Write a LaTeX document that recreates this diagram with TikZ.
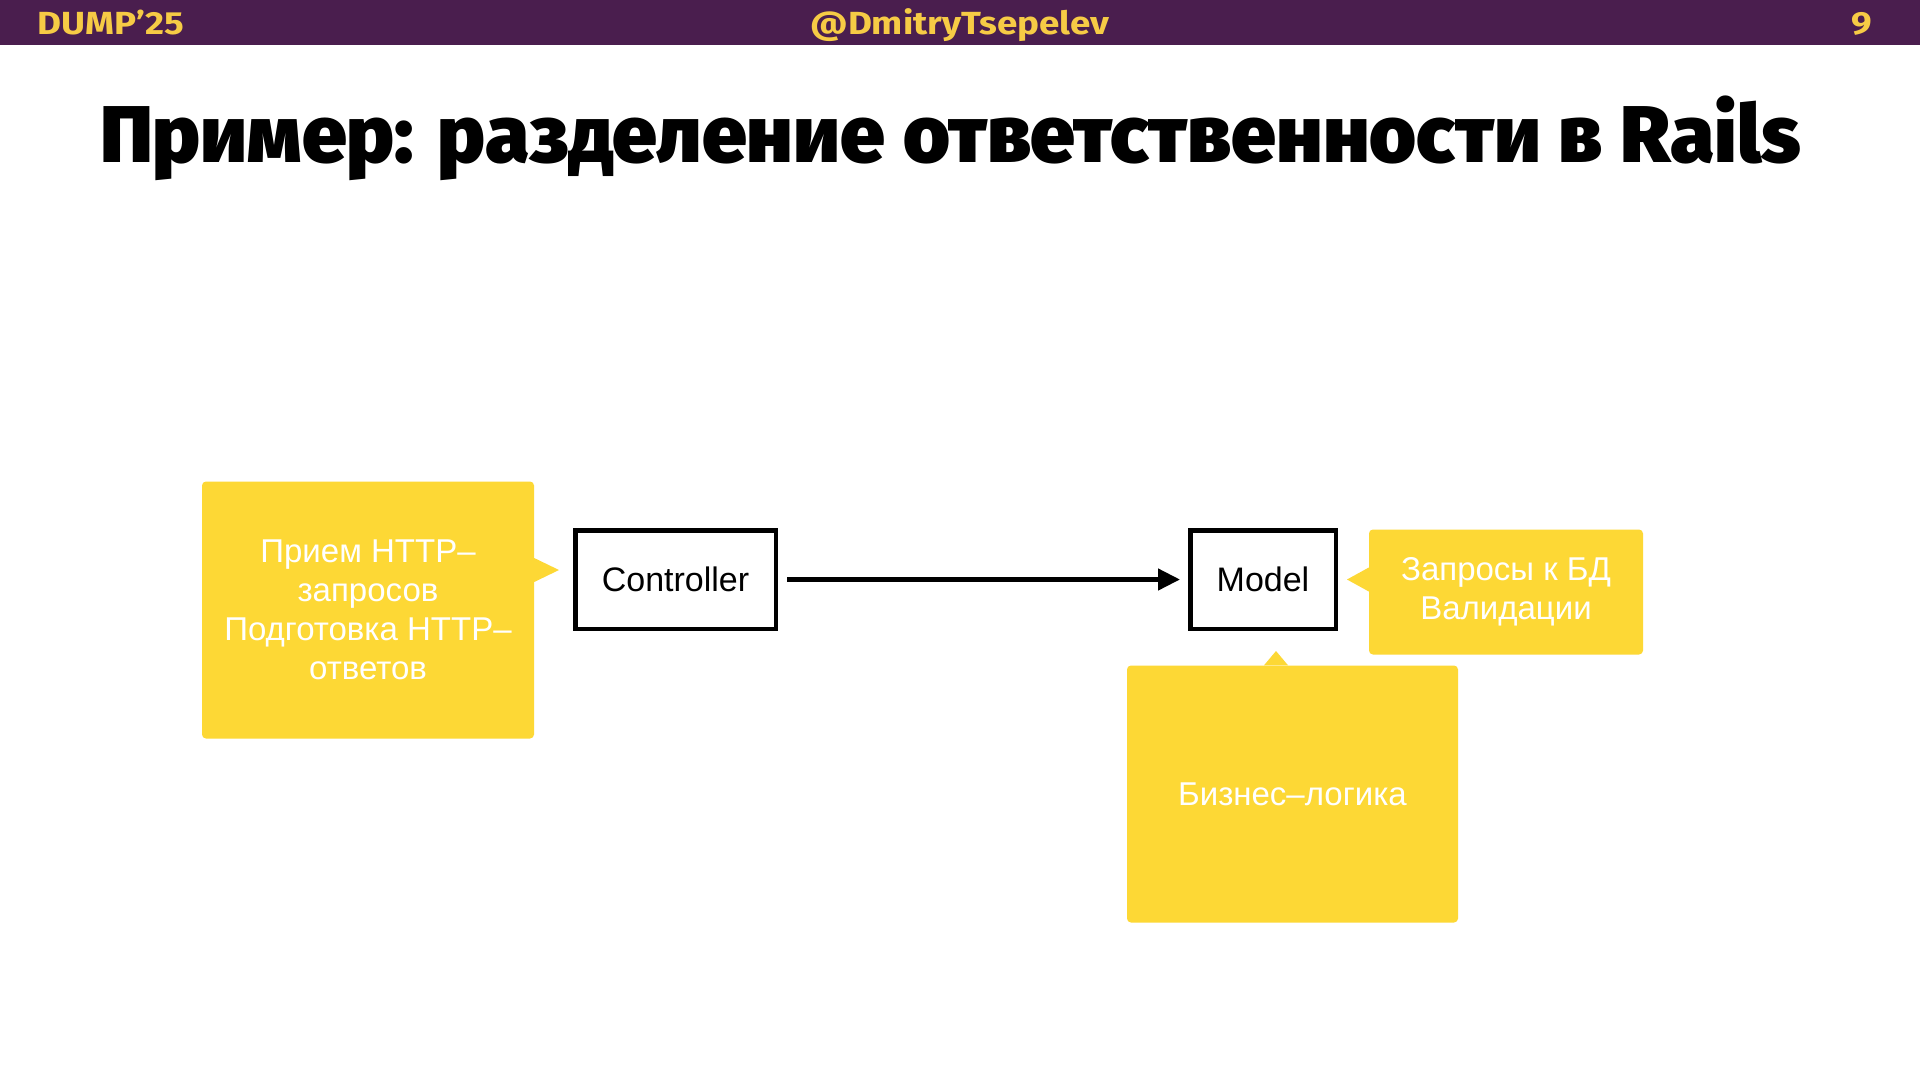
\documentclass[tikz,border=0pt]{standalone}
\usepackage{fontspec}
\setmainfont{Liberation Sans}
\newfontfamily\titlefont{Fira Sans Black}
\newfontfamily\headfont[FakeStretch=1.15]{Fira Sans Bold}
\usetikzlibrary{arrows.meta}
\definecolor{barpurple}{HTML}{4A1E4E}
\definecolor{baryellow}{HTML}{F6CB45}
\definecolor{calloutyellow}{HTML}{FDD835}
\begin{document}
\begin{tikzpicture}[x=1pt,y=-1pt,
  callbox/.style={fill=calloutyellow, rounded corners=4pt, text=white, align=center,
    font=\fontsize{33}{39}\selectfont, inner sep=0pt},
  compbox/.style={draw=black, line width=4.5pt, fill=white,
    font=\fontsize{34}{38}\selectfont, inner sep=0pt},
  headtext/.style={text=baryellow, font=\headfont\fontsize{32}{36}\selectfont, inner sep=0pt},
  flow/.style={line width=4.5pt, -{Triangle[length=22pt,width=21pt]}},
]
\useasboundingbox (0,0) rectangle (1920,1080);
\fill[white] (0,0) rectangle (1920,1080);
\fill[barpurple] (0,0) rectangle (1920,45);
\node[headtext, anchor=base west] (conf) at (37,34) {DUMP’25};
\node[headtext, anchor=base] (author) at (960,34) {@DmitryTsepelev};
\node[headtext, anchor=base east] (page) at (1872,34) {9};

\node[anchor=base, inner sep=0pt, font=\titlefont\fontsize{76}{80}\selectfont] (title) at (950.5,162)
  {\resizebox{1701pt}{!}{Пример: разделение ответственности в Rails}};

% callouts
\node[callbox, minimum width=332pt, minimum height=257pt] (httpnote) at (368,610)
  {Прием HTTP–\\запросов\\Подготовка HTTP–\\ответов};
\coordinate (httptip) at (559,570);
\fill[calloutyellow] ([yshift=12pt]httpnote.east |- httptip) -- (httptip) -- ([yshift=-12pt]httpnote.east |- httptip) -- cycle;

\node[callbox, minimum width=274pt, minimum height=125pt] (dbnote) at (1506,592)
  {Запросы к БД\\Валидации};
\coordinate (dbtip) at (1347,579.5);
\fill[calloutyellow] ([yshift=12pt]dbnote.west |- dbtip) -- (dbtip) -- ([yshift=-12pt]dbnote.west |- dbtip) -- cycle;

\node[callbox, minimum width=331pt, minimum height=257pt] (bizznote) at (1292.5,794)
  {Бизнес–логика};
\coordinate (biztip) at (1276,651);
\fill[calloutyellow] ([xshift=-12pt]biztip |- bizznote.north) -- (biztip) -- ([xshift=12pt]biztip |- bizznote.north) -- cycle;

% components
\node[compbox, minimum width=200.5pt, minimum height=98.5pt] (ctrl) at (675.5,579.5) {Controller};
\node[compbox, minimum width=145.5pt, minimum height=98.5pt] (model) at (1263,579.5) {Model};

\draw[flow, shorten <=9pt, shorten >=8pt] (ctrl.east) -- (model.west);
\end{tikzpicture}
\end{document}
